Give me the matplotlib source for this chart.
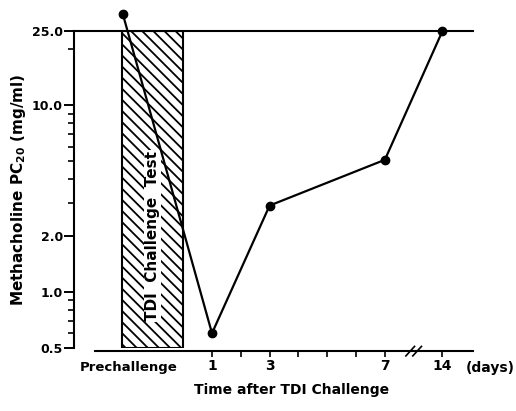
import numpy as np
import matplotlib.pyplot as plt
from matplotlib.patches import Rectangle
from matplotlib.ticker import LogLocator, NullFormatter, FixedLocator

plt.rcParams['font.family'] = ['DejaVu Sans']
plt.rcParams['font.weight'] = 'bold'
plt.rcParams['hatch.linewidth'] = 1.3

# data: position on the (broken) time axis and PC20 values
x_pos = [-2.1, 1, 3, 7, 9]
pc20 = [31.0, 0.6, 2.9, 5.1, 25.0]

tick_pos = [1, 2, 3, 4, 5, 6, 7, 9]
tick_labels = ['1', '', '3', '', '', '', '7', '14']
y_ticks = [0.5, 1.0, 2.0, 10.0, 25.0]
y_labels = ['0.5', '1.0', '2.0', '10.0', '25.0']

# challenge test period
test_start, test_end = -2.13, 0.0

fig = plt.figure(figsize=(5.16, 4.11), dpi=100)
ax = fig.add_axes([0.1434, 0.1533, 0.7733, 0.7713])

ax.set_yscale('log')
ax.set_ylim(0.5, 25.0)
ax.set_xlim(-3.79, 10.06)

# hatched block
rect = Rectangle((test_start, 0.5), test_end - test_start, 25.0 - 0.5,
                 facecolor='white', edgecolor='black', hatch='\\\\\\', lw=1.5, zorder=1)
ax.add_patch(rect)
ax.text((test_start + test_end) / 2, 2.0, 'TDI  Challenge  Test', rotation=90,
        ha='center', va='center', fontsize=11, fontweight='bold',
        bbox=dict(facecolor='white', edgecolor='none', pad=0.8), zorder=2)

ax.plot(x_pos, pc20, color='black', lw=1.6, marker='o', markersize=6,
        clip_on=False, zorder=3)

# spines
for s in ['left', 'top', 'bottom']:
    ax.spines[s].set_linewidth(1.5)
ax.spines['right'].set_visible(False)
ax.spines['bottom'].set_bounds(-3.06, 10.06)
ax.spines['bottom'].set_position(('outward', 2))

ax.set_yticks(y_ticks)
ax.set_yticklabels(y_labels)
ax.yaxis.set_minor_locator(LogLocator(base=10, subs=np.arange(2, 10)))
ax.yaxis.set_minor_formatter(NullFormatter())
ax.tick_params(axis='y', which='major', length=7, width=1.4, labelsize=9, pad=1)
ax.tick_params(axis='y', which='minor', length=4, width=1.2)

ax.xaxis.set_major_locator(FixedLocator(tick_pos))
ax.set_xticklabels(tick_labels)
ax.xaxis.set_minor_locator(FixedLocator([]))
ax.tick_params(axis='x', which='major', length=4, width=1.2, labelsize=10, pad=2)
ax.tick_params(top=False, right=False)

ax.text(-1.9, -0.04, 'Prechallenge', transform=ax.get_xaxis_transform(),
        ha='center', va='top', fontsize=9.5, fontweight='bold')
ax.text(9.8, -0.04, '(days)', transform=ax.get_xaxis_transform(),
        ha='left', va='top', fontsize=10, fontweight='bold')

# axis break marks
for dx in [-0.12, 0.12]:
    ax.plot([8.0 + dx - 0.15, 8.0 + dx + 0.15], [-0.025, 0.005],
            transform=ax.get_xaxis_transform(), color='black', lw=1.2, clip_on=False)

ax.set_ylabel('Methacholine PC$_{20}$ (mg/ml)', fontsize=11, fontweight='bold', labelpad=3)
ax.set_xlabel('Time after TDI Challenge', fontsize=10, fontweight='bold')
ax.xaxis.set_label_coords(0.546, -0.11)

fig.savefig('out.png', dpi=100)
